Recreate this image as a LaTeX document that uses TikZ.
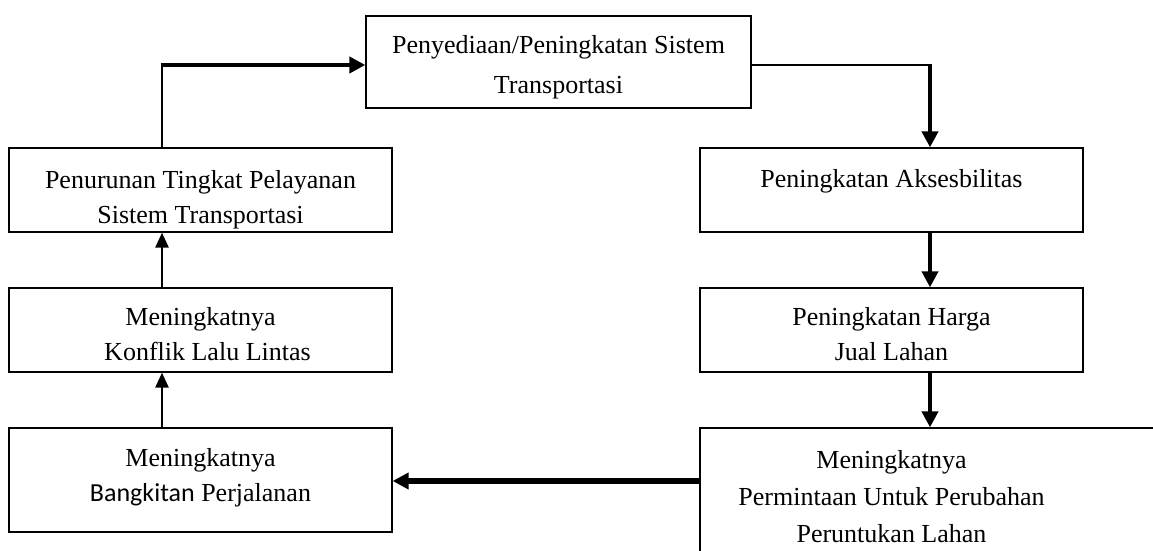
\documentclass[tikz,border=0pt]{standalone}
\usepackage{fontspec}
\setmainfont{Liberation Serif}
\newfontfamily\calib{Carlito}
\usetikzlibrary{arrows.meta}
\begin{document}
\begin{tikzpicture}[x=1pt,y=1pt,
  box/.style={draw,line width=1.3pt,rectangle,inner sep=0pt},
  txt/.style={align=center,inner sep=0pt,font=\fontsize{26}{35}\selectfont},
  thinline/.style={line width=2.6pt},
  thickline/.style={line width=4.5pt},
  tipA/.style={-{Triangle[length=16pt,width=16pt]}},
  tipB/.style={-{Triangle[length=15pt,width=13pt]}}]
\useasboundingbox (0,0) rectangle (1153,551);
% boxes
\node[box,minimum width=385pt,minimum height=92pt] (top) at (558.5,489) {};
\node[box,minimum width=383pt,minimum height=84pt] (l1) at (200.5,361) {};
\node[box,minimum width=383pt,minimum height=84pt] (l2) at (200.5,221) {};
\node[box,minimum width=383pt,minimum height=104pt] (l3) at (200.5,71) {};
\node[box,minimum width=383pt,minimum height=84pt] (r1) at (891.5,361) {};
\node[box,minimum width=383pt,minimum height=84pt] (r2) at (891.5,221) {};
\node[box,minimum width=470pt,minimum height=137pt] (r3) at (935,54.5) {};
% texts
\node[txt,font=\fontsize{26}{40}\selectfont] (topt) at (558.5,484) {Penyediaan/Peningkatan Sistem\\Transportasi};
\node[txt] (l1t) at (200.5,351) {Penurunan Tingkat Pelayanan\\Sistem Transportasi};
\node[txt] (l2t) at (200.5,217) {Meningkatnya\\\hspace*{14pt}Konflik Lalu Lintas};
\node[txt] (l3t) at (200.5,73) {Meningkatnya\\{\calib Bangkitan} Perjalanan};
\node[txt] (r1t) at (891.5,370) {Peningkatan Aksesbilitas};
\node[txt] (r2t) at (891.5,217) {Peningkatan Harga\\Jual Lahan};
\node[txt,font=\fontsize{26}{37}\selectfont] (r3t) at (891.5,54) {Meningkatnya\\Permintaan Untuk Perubahan\\Peruntukan Lahan};
% connector helpers
\coordinate (cTL) at (162,486);
\coordinate (cTR) at (930,486);
\coordinate (cB) at (700,70);
% left loop up to top
\draw[thinline] (l1.north -| cTL) -- ([yshift=1pt]cTL);
\draw[thickline,tipA] ([xshift=-1.3pt]cTL) -- (top.west |- cTL);
% top to right
\draw[thinline] (top.east |- cTR) -- (cTR);
\draw[thickline,tipA] ([yshift=1.3pt]cTR) -- (r1.north -| cTR);
\draw[thickline,tipA] (r1.south -| cTR) -- (r2.north -| cTR);
\draw[thickline,tipA] (r2.south -| cTR) -- (r3.north -| cTR);
% bottom
\draw[line width=5.5pt,tipA] (cB) -- (l3.east |- cB);
% left upward
\draw[thinline,tipB] (l3.north -| cTL) -- (l2.south -| cTL);
\draw[thinline,tipB] (l2.north -| cTL) -- (l1.south -| cTL);
\end{tikzpicture}
\end{document}
